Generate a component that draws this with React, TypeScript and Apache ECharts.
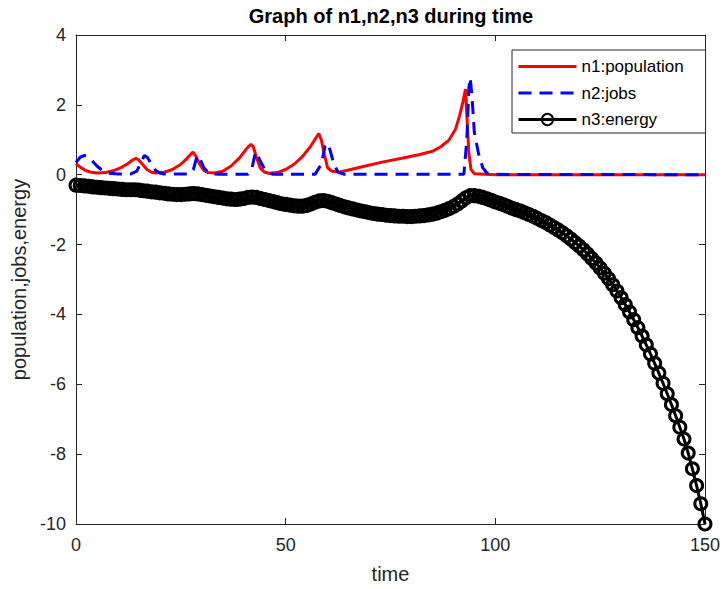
import React, { useEffect, useRef } from "react";
import * as echarts from "echarts";

const xTicks = [0, 50, 100, 150];
const yTicks = [-10, -8, -6, -4, -2, 0, 2, 4];
const legendNames = ["n1:population", "n2:jobs", "n3:energy"];

const n1Time = [0,1,2,3,4,5,7,9,11,12.5,13.5,14.3,15,16,17,18,19,21,23,25,26.5,27.5,27.9,28.5,29.5,30.5,31.5,33,35,37,39,40.5,41.7,42.3,43,44,45,46,48,50,52,54,56,57.2,57.9,58.5,59.2,60,61,63,68,73,78,82,85,87,89,90.5,91.5,92.3,92.9,93.3,93.7,94.2,95,100,150];
const n1Values = [0.32,0.22,0.14,0.09,0.06,0.05,0.06,0.12,0.22,0.33,0.42,0.47,0.42,0.28,0.14,0.07,0.05,0.07,0.15,0.30,0.47,0.60,0.65,0.55,0.30,0.12,0.06,0.05,0.10,0.25,0.48,0.72,0.87,0.80,0.50,0.18,0.07,0.04,0.06,0.15,0.30,0.52,0.82,1.05,1.18,1.00,0.60,0.20,0.10,0.08,0.22,0.36,0.48,0.58,0.67,0.80,1.00,1.30,1.70,2.10,2.45,1.50,0.60,0.15,0.03,0.00,0.00];

const n2Time = [0,1,2,3,4,5,6,7,8,10,13,14.5,15.5,16.3,17,18,19,20,21,27,28,28.9,29.6,30.5,31.5,32.5,34,41,42,42.7,43.1,43.7,45,46,47,57,58.5,59.4,60,60.6,61.5,62.5,64,92.5,93.2,93.7,94,94.4,95,96,97,98,100,150];
const n2Values = [0.35,0.50,0.55,0.50,0.38,0.25,0.15,0.08,0.04,0.02,0.02,0.10,0.35,0.55,0.50,0.30,0.12,0.05,0.02,0.02,0.15,0.55,0.45,0.20,0.07,0.03,0.01,0.01,0.20,0.60,0.65,0.45,0.15,0.05,0.01,0.01,0.30,0.82,0.90,0.70,0.30,0.07,0.01,0.01,1.00,2.50,2.78,2.30,1.20,0.60,0.20,0.05,0.01,0.00];

// n3 sampled once per time unit, t = 0 .. 150
const n3Values = [
  -0.30,-0.31,-0.32,-0.33,-0.35,-0.36,-0.37,-0.38,-0.39,-0.40,
  -0.41,-0.42,-0.43,-0.43,-0.43,-0.44,-0.46,-0.47,-0.49,-0.50,
  -0.52,-0.53,-0.55,-0.56,-0.57,-0.57,-0.56,-0.55,-0.54,-0.55,
  -0.57,-0.59,-0.61,-0.63,-0.65,-0.67,-0.69,-0.70,-0.71,-0.70,
  -0.68,-0.65,-0.64,-0.65,-0.68,-0.71,-0.74,-0.77,-0.80,-0.83,
  -0.85,-0.87,-0.89,-0.90,-0.90,-0.88,-0.84,-0.79,-0.75,-0.74,
  -0.76,-0.80,-0.84,-0.88,-0.92,-0.95,-0.98,-1.01,-1.04,-1.06,
  -1.09,-1.11,-1.13,-1.14,-1.16,-1.17,-1.18,-1.19,-1.19,-1.20,
  -1.20,-1.19,-1.18,-1.17,-1.15,-1.13,-1.10,-1.06,-1.02,-0.97,
  -0.91,-0.84,-0.75,-0.66,-0.60,-0.60,-0.62,-0.65,-0.69,-0.73,
  -0.78,-0.82,-0.86,-0.91,-0.96,-1.00,-1.04,-1.09,-1.14,-1.19,
  -1.25,-1.31,-1.37,-1.44,-1.51,-1.58,-1.66,-1.75,-1.84,-1.94,
  -2.04,-2.15,-2.27,-2.40,-2.53,-2.67,-2.82,-2.98,-3.15,-3.33,
  -3.52,-3.72,-3.93,-4.15,-4.38,-4.62,-4.87,-5.13,-5.40,-5.68,
  -5.97,-6.27,-6.58,-6.90,-7.23,-7.57,-7.97,-8.42,-8.90,-9.42,
  -10.00
];

const FONT = "'Liberation Sans', Arial, Helvetica, sans-serif";
const AXIS_COLOR = "#262626";

export default function App() {
  const ref = useRef<HTMLDivElement>(null);

  useEffect(() => {
    if (!ref.current) return;
    const chart = echarts.init(ref.current, undefined, { renderer: "svg" });

    const n1Data = n1Time.map((t, i) => [t, n1Values[i]]);
    const n2Data = n2Time.map((t, i) => [t, n2Values[i]]);
    const n3Data = n3Values.map((v, i) => [i, v]);

    const xMin = xTicks[0];
    const xMax = xTicks[xTicks.length - 1];
    const xInt = xTicks[1] - xTicks[0];
    const yMin = yTicks[0];
    const yMax = yTicks[yTicks.length - 1];
    const yInt = yTicks[1] - yTicks[0];

    const tickStyle = {
      inside: true,
      length: 6,
      lineStyle: { color: AXIS_COLOR, width: 1 },
    };
    const lineStyle = { show: true, onZero: false, lineStyle: { color: AXIS_COLOR, width: 1 } };

    chart.setOption({
      animation: false,
      backgroundColor: "#ffffff",
      title: {
        text: "Graph of n1,n2,n3 during time",
        left: 391,
        top: 6,
        textAlign: "center",
        padding: 0,
        textStyle: {
          fontFamily: FONT,
          fontSize: 20,
          fontWeight: "bold",
          color: "#000000",
        },
      },
      grid: { left: 76, right: 18, top: 35, bottom: 62, containLabel: false },
      legend: {
        orient: "vertical",
        left: 512,
        top: 50,
        padding: [8, 22, 5, 5],
        itemWidth: 58,
        itemHeight: 14,
        itemGap: 9.5,
        backgroundColor: "#ffffff",
        borderColor: AXIS_COLOR,
        borderWidth: 1,
        borderRadius: 0,
        lineStyle: { width: 3 },
        textStyle: { fontFamily: FONT, fontSize: 17, color: "#000000" },
        data: [
          { name: legendNames[0], itemStyle: { opacity: 0 } },
          { name: legendNames[1], itemStyle: { opacity: 0 } },
          { name: legendNames[2] },
        ],
      },
      xAxis: [
        {
          type: "value",
          position: "bottom",
          min: xMin,
          max: xMax,
          interval: xInt,
          name: "time",
          nameLocation: "middle",
          nameGap: 40,
          nameTextStyle: { fontFamily: FONT, fontSize: 20, color: AXIS_COLOR },
          axisLine: lineStyle,
          axisTick: tickStyle,
          axisLabel: { fontFamily: FONT, fontSize: 18, color: AXIS_COLOR, margin: 12 },
          splitLine: { show: false },
        },
        {
          type: "value",
          position: "top",
          min: xMin,
          max: xMax,
          interval: xInt,
          axisLine: lineStyle,
          axisTick: tickStyle,
          axisLabel: { show: false },
          splitLine: { show: false },
        },
      ],
      yAxis: [
        {
          type: "value",
          position: "left",
          min: yMin,
          max: yMax,
          interval: yInt,
          name: "population,jobs,energy",
          nameLocation: "middle",
          nameGap: 44,
          nameTextStyle: { fontFamily: FONT, fontSize: 20, color: AXIS_COLOR },
          axisLine: lineStyle,
          axisTick: tickStyle,
          axisLabel: { fontFamily: FONT, fontSize: 18, color: AXIS_COLOR, margin: 10 },
          splitLine: { show: false },
        },
        {
          type: "value",
          position: "right",
          min: yMin,
          max: yMax,
          interval: yInt,
          axisLine: lineStyle,
          axisTick: tickStyle,
          axisLabel: { show: false },
          splitLine: { show: false },
        },
      ],
      series: [
        {
          name: legendNames[0],
          type: "line",
          data: n1Data,
          symbol: "none",
          showSymbol: false,
          color: "#ff0000",
          lineStyle: { color: "#ff0000", width: 3 },
          z: 2,
        },
        {
          name: legendNames[1],
          type: "line",
          data: n2Data,
          symbol: "none",
          showSymbol: false,
          color: "#0000ff",
          lineStyle: { color: "#0000ff", width: 3, type: [13, 8] },
          z: 3,
        },
        {
          name: legendNames[2],
          type: "line",
          data: n3Data,
          symbol: "circle",
          symbolSize: 12,
          showSymbol: true,
          color: "#000000",
          lineStyle: { color: "#000000", width: 3 },
          itemStyle: { color: "rgba(0,0,0,0)", borderColor: "#000000", borderWidth: 3 },
          z: 4,
        },
      ],
    });

    return () => chart.dispose();
  }, []);

  return (
    <div
      ref={ref}
      style={{ position: "fixed", left: 0, top: 0, width: 723, height: 589, background: "#fff" }}
    />
  );
}
